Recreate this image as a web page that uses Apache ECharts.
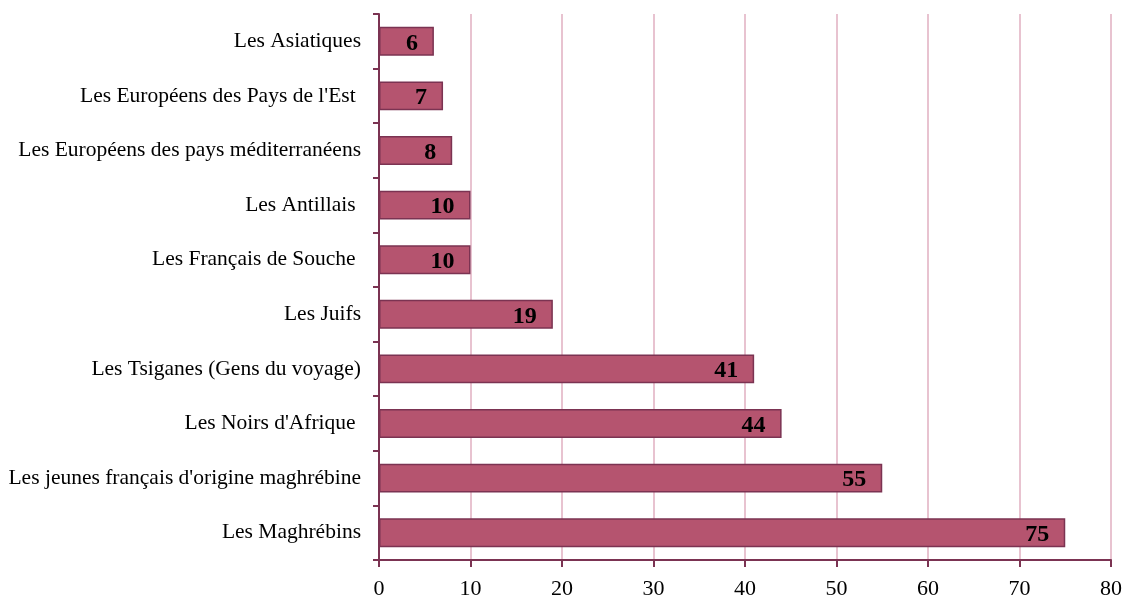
<!DOCTYPE html>
<html>
<head>
<meta charset="utf-8">
<script src="https://cdn.jsdelivr.net/npm/echarts@6/dist/echarts.min.js"></script>
<style>
  html, body { margin: 0; padding: 0; background: #fff; }
  #chart { width: 1126px; height: 600px; }
</style>
</head>
<body>
<div id="chart"></div>
<script>
  // categories listed from bottom to top
  var categories = [
    'Les Maghrébins',
    "Les jeunes français d'origine maghrébine",
    "Les Noirs d'Afrique ",
    'Les Tsiganes (Gens du voyage)',
    'Les Juifs',
    'Les Français de Souche ',
    'Les Antillais ',
    'Les Européens des pays méditerranéens',
    "Les Européens des Pays de l'Est ",
    'Les Asiatiques'
  ];
  var values = [75, 55, 44, 41, 19, 10, 10, 8, 7, 6];

  var axisColor = '#7b3352';
  var font = '"Liberation Serif", "Times New Roman", serif';

  var myChart = echarts.init(document.getElementById('chart'));
  var option = {
    animation: false,
    grid: { left: 379, right: 15, top: 14, bottom: 37 },
    xAxis: {
      type: 'value',
      min: 0,
      max: 80,
      interval: 10,
      axisLine: { show: true, lineStyle: { color: axisColor, width: 2 } },
      axisTick: { show: true, length: 7, lineStyle: { color: axisColor, width: 2 } },
      splitLine: { show: true, lineStyle: { color: '#e8c3d0', width: 2 } },
      axisLabel: { color: '#000', fontFamily: font, fontSize: 22, margin: 18 }
    },
    yAxis: {
      type: 'category',
      data: categories,
      axisLine: { show: true, lineStyle: { color: axisColor, width: 2 } },
      axisTick: { show: true, length: 6, lineStyle: { color: axisColor, width: 2 } },
      axisLabel: { color: '#000', fontFamily: font, fontSize: 21.5, margin: 18, padding: [3, 0, 0, 0] }
    },
    series: [{
      type: 'bar',
      data: values,
      barWidth: '53%',
      itemStyle: { color: '#b5546f', borderColor: '#7b3352', borderWidth: 1.5 },
      label: {
        show: true,
        position: 'insideRight',
        distance: 16,
        offset: [0, 2],
        color: '#000',
        fontFamily: font,
        fontWeight: 'bold',
        fontSize: 24
      }
    }]
  };
  myChart.setOption(option);
</script>
</body>
</html>
